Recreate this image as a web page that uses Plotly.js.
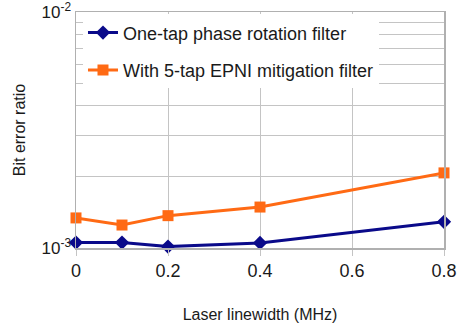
<!DOCTYPE html>
<html>
<head>
<meta charset="utf-8">
<script src="https://cdn.plot.ly/plotly-3.0.1.min.js"></script>
<style>
html,body{margin:0;padding:0;background:#fff;}
#chart{width:458px;height:326px;}
</style>
</head>
<body>
<div id="chart"></div>
<script>
var linewidth = [0, 0.1, 0.2, 0.4, 0.8];
var berOneTap = [1.053e-3, 1.053e-3, 1.013e-3, 1.05e-3, 1.29e-3];
var berEPNI = [1.34e-3, 1.25e-3, 1.37e-3, 1.49e-3, 2.08e-3];
var seriesNames = ["One-tap phase rotation filter", "With 5-tap EPNI mitigation filter"];
var xTickVals = [0, 0.2, 0.4, 0.6, 0.8];
var xTickText = ["0", "0.2", "0.4", "0.6", "0.8"];
var yTickVals = [1e-3, 2e-3, 3e-3, 4e-3, 5e-3, 6e-3, 7e-3, 8e-3, 9e-3, 1e-2];
var yTickText = ["10<sup>-3</sup>", "", "", "", "", "", "", "", "", "10<sup>-2</sup>"];

var font = "Liberation Sans, Arial, sans-serif";
var traces = [
  {x: linewidth, y: berOneTap, name: seriesNames[0], type: "scatter", mode: "lines+markers",
   legendgroup: "a", cliponaxis: false,
   line: {color: "#0a0a8a", width: 3}, marker: {symbol: "diamond", size: 11, color: "#0a0a8a"}},
  {x: linewidth, y: berEPNI, name: seriesNames[1], type: "scatter", mode: "lines+markers",
   legendgroup: "b", cliponaxis: false,
   line: {color: "#ff6a14", width: 3}, marker: {symbol: "square", size: 11, color: "#ff6a14"}}
];
var layout = {
  width: 458, height: 326,
  margin: {l: 76, r: 14, t: 12, b: 78},
  paper_bgcolor: "#fff", plot_bgcolor: "#fff",
  font: {family: font, color: "#1a1a1a", size: 16},
  showlegend: true,
  legend: {x: 0.019, y: 0.99, xanchor: "left", yanchor: "top", bgcolor: "#fff", borderwidth: 0,
           font: {family: font, size: 18, color: "#1a1a1a"}, traceorder: "grouped", tracegroupgap: 11},
  xaxis: {range: [0, 0.8], tickvals: xTickVals, ticktext: xTickText,
          showgrid: true, gridcolor: "#c4c4c4", gridwidth: 1,
          showline: true, linecolor: "#b0b0b0", linewidth: 1.5, mirror: true,
          ticks: "outside", ticklen: 6, tickcolor: "#c4c4c4",
          zeroline: false,
          tickfont: {family: font, size: 18, color: "#1a1a1a"},
          title: {text: "Laser linewidth (MHz)", font: {family: font, size: 16, color: "#1a1a1a"}, standoff: 28}},
  yaxis: {type: "log", range: [-3.0005, -1.9995], tickmode: "array", tickvals: yTickVals, ticktext: yTickText,
          ticklabeloverflow: "allow",
          showgrid: true, gridcolor: "#c4c4c4", gridwidth: 1,
          showline: true, linecolor: "#b0b0b0", linewidth: 1.5, mirror: true,
          ticks: "", zeroline: false,
          tickfont: {family: font, size: 17, color: "#1a1a1a"},
          title: {text: "Bit error ratio", font: {family: font, size: 16, color: "#1a1a1a"}, standoff: 12}}
};
Plotly.newPlot("chart", traces, layout, {displayModeBar: false, staticPlot: true});
</script>
</body>
</html>
